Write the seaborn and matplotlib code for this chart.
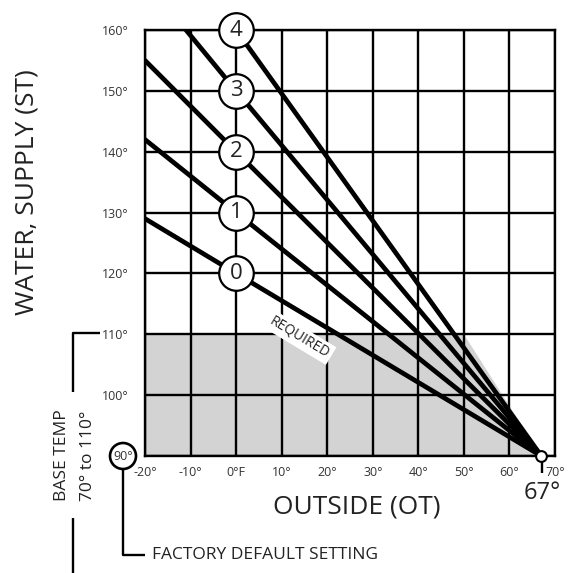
import pandas as pd
import matplotlib.pyplot as plt
import seaborn as sns
from matplotlib.patches import Circle

# reset curves: outside temp (F) -> supply water temp (F)
curve_ids = ["0", "1", "2", "3", "4"]
curve_outside = [[-20, 0, 67], [-20, 0, 67], [-20, 0, 67], [-11, 0, 67], [0, 67]]
curve_supply = [[129, 120, 90], [142, 130, 90], [155, 140, 90], [160, 150, 90], [160, 90]]

# where the curve number sits
label_outside = [0, 0, 0, 0, 0]
label_supply = [120, 130, 140, 150, 160]

# shaded base zone
zone_outside = [-20, -20, 50, 67]
zone_supply = [90, 110, 110, 90]

design_outside = [67]
design_supply = [90]

x_ticks = [-20, -10, 0, 10, 20, 30, 40, 50, 60, 70]
x_labels = ["-20°", "-10°", "0°F", "10°", "20°", "30°", "40°", "50°", "60°", "70°"]
y_ticks = [90, 100, 110, 120, 130, 140, 150, 160]
# 90 is drawn on its own inside the "factory default" circle
y_labels = ["", "100°", "110°", "120°", "130°", "140°", "150°", "160°"]

rows = []
for cid, xs, ys in zip(curve_ids, curve_outside, curve_supply):
    for x, y in zip(xs, ys):
        rows.append((cid, x, y))
df = pd.DataFrame(rows, columns=["curve", "outside", "supply"])

sns.set_style("white")
plt.rcParams["font.family"] = ["Open Sans", "DejaVu Sans"]

W, H = 575, 573
fig = plt.figure(figsize=(W / 100, H / 100), dpi=100)
ax = fig.add_axes([145 / W, 1 - 456 / H, 410 / W, 426 / H])

ax.fill(zone_outside, zone_supply, color="#d3d3d3", zorder=0.3, lw=0)

sns.lineplot(data=df, x="outside", y="supply", hue="curve", estimator=None, sort=False,
             palette=["black"] * 5, linewidth=3.4, legend=False, ax=ax, zorder=3)

sns.scatterplot(x=label_outside, y=label_supply, s=620, color="white", edgecolor="black",
                linewidth=1.6, zorder=4, clip_on=False, ax=ax)
for cid, x, y in zip(curve_ids, label_outside, label_supply):
    ax.text(x, y, cid, ha="center", va="center", fontsize=16, color="#222222", zorder=5)

ax.scatter(design_outside, design_supply, s=60, color="white", edgecolor="black",
           linewidth=1.5, zorder=5, clip_on=False)

ax.text(14, 109.5, "REQUIRED", rotation=-31, ha="center", va="center", fontsize=10,
        color="#222222", zorder=2.5, bbox=dict(facecolor="white", edgecolor="none", pad=2))

ax.set_xlim(-20, 70)
ax.set_ylim(90, 160)
ax.set_xticks(x_ticks, x_labels)
ax.set_yticks(y_ticks, y_labels)
ax.grid(True, color="black", lw=1.7)
ax.set_axisbelow(True)
for s in ax.spines.values():
    s.set_color("black")
    s.set_linewidth(1.7)
ax.tick_params(axis="both", direction="out", width=1.7, color="black", labelcolor="#333333",
               labelsize=9)
ax.tick_params(axis="y", length=4, pad=8)
ax.tick_params(axis="x", length=3, pad=4)
ax.set_xlabel("")
ax.set_ylabel("")

# annotations around the chart, in pixel space
ov = fig.add_axes([0, 0, 1, 1])
ov.set_xlim(0, W)
ov.set_ylim(H, 0)
ov.axis("off")
ov.patch.set_visible(False)

kw = dict(color="black", lw=1.7, solid_capstyle="butt")
ov.plot([100, 73, 73], [333, 333, 392], **kw)
ov.plot([73, 73], [518, 573], **kw)
ov.plot([123, 123, 145], [469, 555, 555], **kw)
ov.plot([542, 542], [461, 473], **kw)
ov.add_patch(Circle((123, 456), 13, facecolor="white", edgecolor="black", lw=1.9))
ov.text(123, 456, "90°", ha="center", va="center", fontsize=9, color="#333333")

ov.text(27, 192, "WATER, SUPPLY (ST)", rotation=90, ha="center", va="center", fontsize=19,
        color="#222222")
ov.text(357, 507, "OUTSIDE (OT)", ha="center", va="center", fontsize=19, color="#222222")
ov.text(62, 455, "BASE TEMP", rotation=90, ha="center", va="center", fontsize=12.5,
        color="#222222")
ov.text(88, 456, "70° to 110°", rotation=90, ha="center", va="center", fontsize=12.5,
        color="#222222")
ov.text(152, 555, "FACTORY DEFAULT SETTING", ha="left", va="center", fontsize=12.5,
        color="#222222")
ov.text(542, 493, "67°", ha="center", va="center", fontsize=17, color="#222222")

fig.savefig("out.png", dpi=100)
